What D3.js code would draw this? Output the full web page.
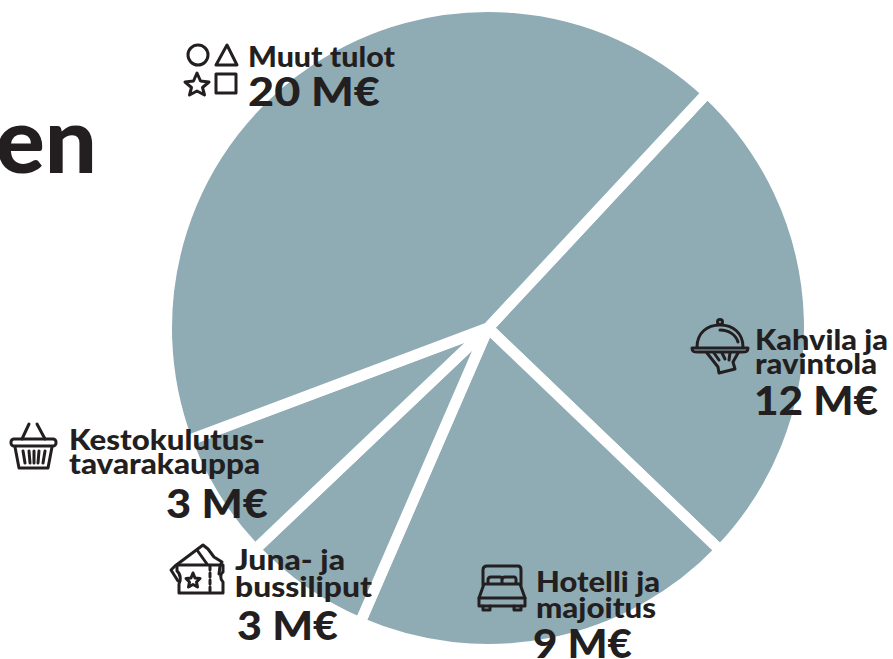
<!DOCTYPE html>
<html>
<head>
<meta charset="utf-8">
<script src="https://cdn.jsdelivr.net/npm/d3@7"></script>
<style>
  html, body { margin:0; padding:0; background:#fff; overflow:hidden; }
  text { font-family:"Lato", sans-serif; font-weight:900; fill:#231f20; }
  .icon * { fill:none; stroke:#231f20; stroke-width:3; stroke-linejoin:round; stroke-linecap:round; }
</style>
</head>
<body>
<div id="chart-area"></div>
<script>
// Data, clockwise from the top right gap
var categories = ["Kahvila ja ravintola", "Hotelli ja majoitus", "Juna- ja bussiliput", "Kestokulutustavarakauppa", "Muut tulot"];
var values = [11.85, 9.1, 3, 3, 20.05]; // labels show them rounded
var nameLines = [["Kahvila ja", "ravintola"], ["Hotelli ja", "majoitus"], ["Juna- ja", "bussiliput"], ["Kestokulutus-", "tavarakauppa"], ["Muut tulot"]];
var unit = " M€";

// Label placing, same order as the data
var nameX = [755, 536, 235, 69, 248];
var nameBase = [[350, 374], [592, 618], [570, 597], [450, 474], [67]];
var nameW = [[133, 122], [124, 120], [110, 137], [196, 191], [147]];
var valueX = [754, 533, 237, 166, 248];
var valueBase = [415, 658, 640, 518, 106];
var valueW = [124, 99, 101, 102, 132];

var width = 893, height = 659;
var cx = 488, cy = 328, radius = 316, gap = 11;

var svg = d3.select("#chart-area").append("svg")
    .attr("width", width)
    .attr("height", height)
    .style("display", "block");

// Pie, first slice starts at 43 degrees
var pie = d3.pie()
    .sort(null)
    .startAngle(43 * Math.PI / 180)
    .endAngle((43 + 360) * Math.PI / 180);

var arc = d3.arc()
    .innerRadius(0)
    .outerRadius(radius + gap / 2);

var g = svg.append("g")
    .attr("transform", "translate(" + cx + "," + cy + ")");

g.selectAll("path")
  .data(pie(values))
  .enter()
  .append("path")
    .attr("d", arc)
    .attr("fill", "#8facb5")
    .attr("stroke", "#fff")
    .attr("stroke-width", gap)
    .attr("stroke-linejoin", "round");

// Title cut off by the left edge
svg.append("text")
    .attr("x", 97)
    .attr("y", 173)
    .attr("text-anchor", "end")
    .attr("font-size", "92px")
    .text("en");

// Labels
categories.forEach((c, i) => {
  nameLines[i].forEach((line, j) => {
    svg.append("text")
      .attr("x", nameX[i])
      .attr("y", nameBase[i][j])
      .attr("font-size", "28px")
      .attr("textLength", nameW[i][j])
      .attr("lengthAdjust", "spacingAndGlyphs")
      .text(line);
  });
  svg.append("text")
    .attr("x", valueX[i])
    .attr("y", valueBase[i])
    .attr("font-size", "39px")
    .attr("textLength", valueW[i])
    .attr("lengthAdjust", "spacingAndGlyphs")
    .text(Math.round(values[i]) + unit);
});

// Icons
var icons = svg.append("g").attr("class", "icon");

// other income: four shapes
icons.append("circle").attr("cx", 198).attr("cy", 55).attr("r", 10);
icons.append("path").attr("d", "M227,45L237,65H216Z");
icons.append("path").attr("d", "M197,73L200.5,81L209,82L202.5,87.5L204.5,95L197,91L189.5,95L191.5,87.5L185,82L193.5,81Z");
icons.append("rect").attr("x", 216).attr("y", 74).attr("width", 20).attr("height", 19);

// cloche on a hand
icons.append("circle").attr("cx", 720).attr("cy", 322).attr("r", 2.5);
icons.append("path").attr("d", "M697,347C697,333 707,325 720,325C733,325 743,333 743,347");
icons.append("path").attr("d", "M720,330C729,330 736,335 738,342");
icons.append("path").attr("d", "M692,348H748C748,352 746,352 742,352H698C694,352 692,352 692,348Z");
icons.append("path").attr("d", "M707,353L718,367L719,373L735,369L733,362L738,353");
icons.append("path").attr("d", "M714,353L719,360M722,353L725,359M730,353L729,360");

// basket
icons.append("path").attr("d", "M22,439L29,424M45,439L37,424");
icons.append("rect").attr("x", 11).attr("y", 439).attr("width", 45).attr("height", 7).attr("rx", 3);
icons.append("path").attr("d", "M15,447L19,468H48L52,447");
icons.append("path").attr("d", "M23,451L25,463M29,451L30,463M34,451V463M39,451L38,463M45,451L43,463");

// tickets
icons.append("path").attr("d", "M178,581L171,570L175,566L203,545L208,549L214,557L222,562L220,566L219,574");
icons.append("path").attr("d", "M197,550L207,564");
icons.append("path").attr("d", "M177,565H223V572C220,574 220,579 223,582V593H179V584C181,581 181,574 177,571Z");
icons.append("path").attr("d", "M210,566V591").attr("stroke-dasharray", "4 3");
icons.append("path").attr("d", "M193,573L195,578L200,578.5L196.5,582L197.5,587L193,584.5L188.5,587L189.5,582L186,578.5L191,578Z");

// bed
icons.append("path").attr("d", "M483,585V570C483,567 485,566 487,566H518C520,566 521,567 521,570V585");
icons.append("path").attr("d", "M488,583V580C488,578 489,577 491,577H500C502,577 502,578 502,580V583M502,580C502,578 503,577 505,577H514C516,577 516,578 516,580V583");
icons.append("path").attr("d", "M484,584H520L525,598H479Z");
icons.append("path").attr("d", "M479,598V606H525V598");
icons.append("path").attr("d", "M483,606V610H490V606M514,606V610H521V606");
</script>
</body>
</html>
